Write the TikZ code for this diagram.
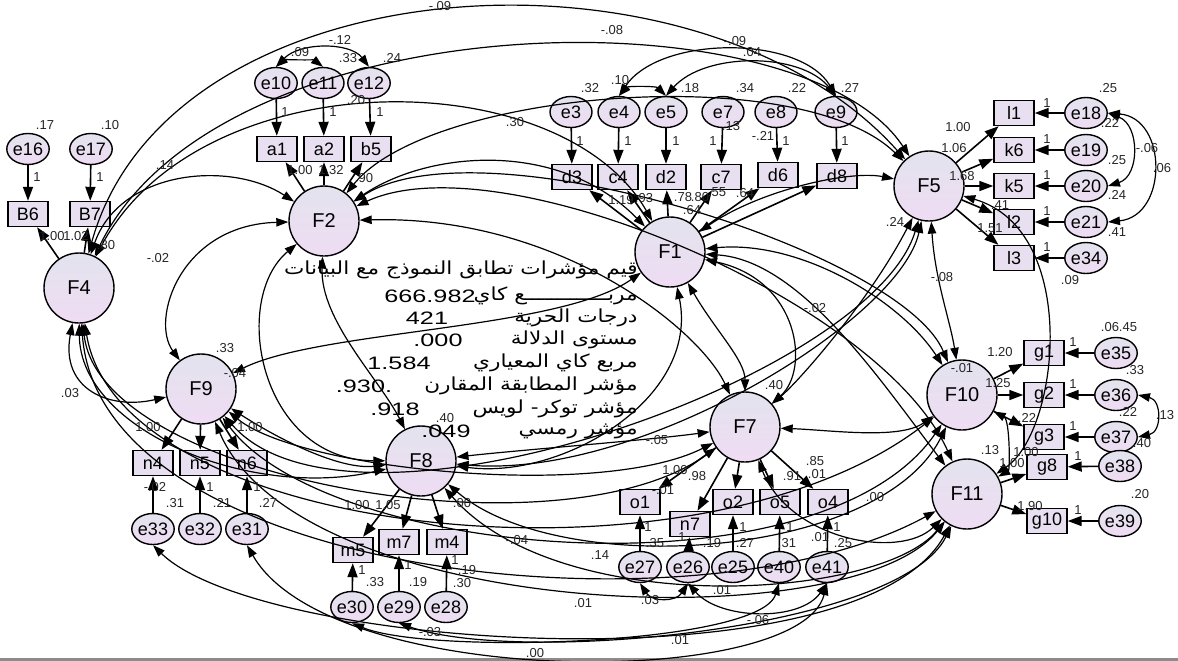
\documentclass[tikz,border=0pt]{standalone}
\usepackage{fontspec}
\setmainfont{Liberation Sans}
\newfontfamily\arabicfont[Script=Arabic,FakeStretch=1.2]{DejaVu Sans}
\newfontfamily\widenum[FakeStretch=1.4]{Liberation Sans}
\TeXXeTstate=1
\usetikzlibrary{shapes.geometric,arrows.meta}
\definecolor{lavtop}{HTML}{E3E3EE}
\definecolor{lavbot}{HTML}{EFDCF3}
\definecolor{boxfill}{HTML}{E8E0F0}
\newcounter{labc}
\newcommand\numlab[2]{\stepcounter{labc}\node[num] (lab\arabic{labc}) at (#1) {#2};}
\begin{document}
\begin{tikzpicture}[x=0.5pt,y=-0.5pt,
  lat/.style={circle,draw,line width=0.7pt,minimum size=35pt,inner sep=0pt,
    top color=lavtop,bottom color=lavbot,font=\fontsize{10}{10}\selectfont},
  err/.style={ellipse,draw,line width=0.7pt,minimum width=21pt,minimum height=15.5pt,inner sep=0pt,
    top color=lavtop,bottom color=lavbot,font=\fontsize{9}{9}\selectfont},
  obs/.style={rectangle,draw,line width=0.7pt,minimum width=20pt,minimum height=12.5pt,inner sep=0pt,
    fill=boxfill,font=\fontsize{9}{9}\selectfont},
  arr/.style={-{Triangle[length=7pt,width=5pt]},line width=0.8pt},
  cov/.style={{Triangle[length=6pt,width=4.2pt]}-{Triangle[length=6pt,width=4.2pt]},line width=0.6pt},
  num/.style={inner sep=0pt,font=\fontsize{6.5}{6.5}\selectfont,text=black!85},
  fitar/.style={anchor=east,inner sep=0pt,font=\arabicfont\fontsize{9}{9}\selectfont},
  fitn/.style={inner sep=0pt,font=\widenum\fontsize{9}{9}\selectfont}]
\useasboundingbox (0,0) rectangle (1178,660);
\fill[white] (0,0) rectangle (1178,660);
\draw[black!45,line width=1.5pt] (0,659) -- (1178,659);

% ---------- latent factors ----------
\node[lat] (F1) at (670,252) {F1};
\node[lat] (F2) at (324,221) {F2};
\node[lat] (F4) at (79,288) {F4};
\node[lat] (F5) at (929,186) {F5};
\node[lat] (F7) at (745,427) {F7};
\node[lat] (F8) at (421,461) {F8};
\node[lat] (F9) at (201,389) {F9};
\node[lat] (F10) at (962,395) {F10};
\node[lat] (F11) at (967,494) {F11};

% ---------- observed indicators ----------
\foreach \n/\x/\y/\t in {B6/28/214/B6, B7/90/214/B7, a1/277/149/a1, a2/324/149/a2, b5/371/149/b5,
  d3/572/177/d3, c4/618/177/c4, d2/666/177/d2, c7/721/177/c7, d6/778/175/d6, d8/837/176/d8,
  l1/1014/113/l1, k6/1014/150/k6, k5/1014/186/k5, l2/1014/222/l2, l3/1014/258/l3,
  g1/1044/353/g1, g2/1044/395/g2, g3/1044/437/g3, g8/1047/467/g8, g10/1047/521/g10,
  n4/153/463/n4, n5/200/463/n5, n6/247/463/n6, m5/353/550/m5, m7/399/542/m7, m4/447/542/m4,
  o1/640/502/o1, n7/690/524/n7, o2/733/502/o2, o5/780/502/o5, o4/828/502/o4}
  \node[obs] (\n) at (\x,\y) {\t};

% ---------- error terms ----------
\foreach \n/\x/\y in {e16/28/149, e17/91/149, e10/276/83, e11/323/83, e12/369/83,
  e3/571/112, e4/619/112, e5/666/112, e7/723/112, e8/776/112, e9/836/112,
  e18/1086/113, e19/1086/150, e20/1086/186, e21/1086/222, e34/1086/258,
  e35/1116/353, e36/1116/395, e37/1116/437, e38/1120/466, e39/1120/521,
  e33/153/529, e32/200/529, e31/247/529, e30/352/607, e29/399/607, e28/446/607,
  e27/640/567, e26/688/567, e25/733/567, e40/779/567, e41/827/567}
  \node[err] (\n) at (\x,\y) {\n};

% ---------- error paths ----------
\foreach \e/\o in {e16/B6, e17/B7, e10/a1, e11/a2, e12/b5, e3/d3, e4/c4, e5/d2, e7/c7, e8/d6, e9/d8,
  e18/l1, e19/k6, e20/k5, e21/l2, e34/l3, e35/g1, e36/g2, e37/g3, e38/g8, e39/g10,
  e33/n4, e32/n5, e31/n6, e30/m5, e29/m7, e28/m4, e27/o1, e26/n7, e25/o2, e40/o5, e41/o4}
  \draw[arr] (\e) -- (\o);

% ---------- loadings ----------
\foreach \f/\o in {F4/B6, F4/B7, F2/a1, F2/a2, F2/b5, F1/d3, F1/c4, F1/d2, F1/c7, F1/d6, F1/d8,
  F5/l1, F5/k6, F5/k5, F5/l2, F5/l3, F10/g1, F10/g2, F10/g3, F11/g8, F11/g10,
  F9/n4, F9/n5, F9/n6, F8/m5, F8/m7, F8/m4, F7/o1, F7/n7, F7/o2, F7/o5, F7/o4}
  \draw[arr] (\f) -- (\o);

% ---------- error covariances ----------
\draw[cov] (e10.north) .. controls (284,60) and (314,60) .. (e11.north);
\draw[cov] (e10.north) .. controls (300,42) and (350,42) .. (e12.north);
\draw[cov] (e4.north) .. controls (628,86) and (656,86) .. (e5.north);
\draw[cov] (e4.north) .. controls (660,35) and (800,35) .. (e9.north);
\draw[cov] (e5.north) .. controls (705,52) and (800,52) .. (e9.north);
\draw[cov] (e18.east) .. controls (1140,125) and (1140,176) .. (e20.east);
\draw[cov] (e18.east) .. controls (1168,118) and (1168,216) .. (e21.east);
\draw[cov] (e36.east) .. controls (1162,400) and (1162,432) .. (e37.east);
\draw[cov] (e27.south) .. controls (652,602) and (676,602) .. (e26.south);
\draw[cov] (e26.south) .. controls (720,620) and (800,622) .. (e41.south);
\draw[cov] (e31.south) .. controls (330,690) and (800,690) .. (e41.south);
\draw[cov] (e30.south) .. controls (430,655) and (760,645) .. (e40.south);
\draw[cov] (e33.south) .. controls (260,650) and (860,690) .. (F11);
\draw[cov] (e29.south) .. controls (520,665) and (900,630) .. (F11);

% ---------- factor covariances ----------
\draw[cov] (F4) .. controls (170,-40) and (700,-70) .. (F5);
\draw[cov] (F4) .. controls (220,0) and (800,-10) .. (F5);
\draw[cov] (F4) .. controls (200,60) and (560,60) .. (F1);
\draw[cov] (F4) .. controls (120,170) and (230,160) .. (F2);
\draw[cov] (F2) .. controls (180,225) and (150,320) .. (F9);
\draw[cov] (F2) .. controls (230,300) and (260,460) .. (F8);
\draw[cov] (F8) .. controls (380,380) and (320,320) .. (F2);
\draw[cov] (F2) .. controls (430,150) and (560,140) .. (F1);
\draw[cov] (F2) .. controls (430,90) and (800,60) .. (F5);
\draw[cov] (F2) .. controls (480,120) and (900,250) .. (F10);
\draw[cov] (F2) .. controls (500,140) and (880,300) .. (F11);
\draw[cov] (F2) .. controls (560,215) and (700,330) .. (F7);
\draw[cov] (F1) .. controls (760,190) and (850,170) .. (F5);
\draw[cov] (F1) .. controls (715,330) and (745,360) .. (F7);
\draw[cov] (F1) .. controls (800,280) and (810,370) .. (F7);
\draw[cov] (F1) .. controls (700,400) and (560,480) .. (F8);
\draw[cov] (F9) .. controls (320,330) and (560,330) .. (F1);
\draw[cov] (F10) .. controls (900,300) and (800,240) .. (F1);
\draw[cov] (F11) .. controls (880,380) and (800,260) .. (F1);
\draw[cov] (F5) .. controls (870,300) and (800,380) .. (F7);
\draw[cov] (F5) .. controls (900,320) and (640,480) .. (F8);
\draw[cov] (F5) .. controls (870,380) and (350,560) .. (F9);
\draw[cov] (F5) .. controls (935,280) and (950,320) .. (F10);
\draw[cov] (F5) .. controls (1080,230) and (1060,430) .. (F11);
\draw[cov] (F7) .. controls (650,440) and (520,450) .. (F8);
\draw[cov] (F9) .. controls (300,470) and (600,500) .. (F7);
\draw[cov] (F10) .. controls (900,440) and (830,430) .. (F7);
\draw[cov] (F7) .. controls (790,540) and (900,560) .. (F11);
\draw[cov] (F9) .. controls (280,440) and (340,470) .. (F8);
\draw[cov] (F8) .. controls (560,580) and (880,560) .. (F10);
\draw[cov] (F8) .. controls (560,620) and (880,600) .. (F11);
\draw[cov] (F9) .. controls (330,560) and (820,600) .. (F10);
\draw[cov] (F9) .. controls (300,620) and (850,640) .. (F11);
\draw[cov] (F10) .. controls (1010,420) and (1010,470) .. (F11);
\draw[cov] (F4) .. controls (100,480) and (560,560) .. (F7);
\draw[cov] (F4) .. controls (80,430) and (250,500) .. (F8);
\draw[cov] (F4) .. controls (60,390) and (110,410) .. (F9);
\draw[cov] (F4) .. controls (120,540) and (700,600) .. (F10);
\draw[cov] (F4) .. controls (100,580) and (700,640) .. (F11);

% ---------- fit indices ----------
\node[fitar] (ar1) at (638,270) {\beginR قيم مؤشرات تطابق النموذج مع البيانات\endR};
\node[fitar] (ar2) at (638,296) {\beginR مربـــــــــــــع كاي\endR};
\node[fitar] (ar3) at (638,318) {\beginR درجات الحرية\endR};
\node[fitar] (ar4) at (638,340) {\beginR مستوى الدلالة\endR};
\node[fitar] (ar5) at (638,363) {\beginR مربع كاي المعياري\endR};
\node[fitar] (ar6) at (638,386) {\beginR مؤشر المطابقة المقارن\endR};
\node[fitar] (ar7) at (638,409) {\beginR مؤشر توكر- لويس\endR};
\node[fitar] (ar8) at (638,431) {\beginR مؤشر رمسي\endR};
\node[fitn] (v2) at (430,296) {666.982};
\node[fitn] (v3) at (427,318) {421};
\node[fitn] (v4) at (438,340) {.000};
\node[fitn] (v5) at (399,363) {1.584};
\node[fitn] (v6) at (364,386) {.930.};
\node[fitn] (v7) at (395,409) {.918};
\node[fitn] (v8) at (446,431) {.049};

% ---------- estimates ----------
\numlab{440,6}{-.09}
\numlab{612,30}{-.08}
\numlab{735,41}{-.09}
\numlab{752,52}{.04}
\numlab{340,40}{-.12}
\numlab{300,52}{.09}
\numlab{348,58}{.33}
\numlab{392,58}{.24}
\numlab{45,125}{.17}
\numlab{110,125}{.10}
\numlab{356,100}{.20}
\numlab{165,165}{.14}
\numlab{515,122}{.30}
\numlab{590,88}{.32}
\numlab{620,80}{.10}
\numlab{690,88}{.18}
\numlab{745,88}{.34}
\numlab{797,88}{.22}
\numlab{850,88}{.27}
\numlab{731,126}{.13}
\numlab{763,136}{-.21}
\foreach \x/\y in {37/177, 100/177, 285/112, 333/112, 380/112, 580/141, 628/141, 676/141, 713/141, 786/141, 845/141,
  1047/103, 1047/139, 1047/175, 1047/211, 1047/247, 1073/342, 1073/384, 1073/426, 1078/456, 1078/510,
  210/487, 257/487, 362/570, 408/565, 455/560, 648/527, 682/537, 743/527, 790/527, 837/527}
  {\numlab{\x,\y}{1}}
\numlab{52,236}{1.00}
\numlab{76,236}{1.02}
\numlab{106,245}{.80}
\numlab{300,170}{1.00}
\numlab{331,170}{1.32}
\numlab{364,178}{.90}
\numlab{621,200}{1.19}
\numlab{644,198}{.93}
\numlab{683,197}{.78}
\numlab{700,197}{.80}
\numlab{717,192}{.55}
\numlab{692,210}{.64}
\numlab{745,193}{.64}
\numlab{958,127}{1.00}
\numlab{954,148}{1.06}
\numlab{962,176}{1.68}
\numlab{1000,205}{.41}
\numlab{990,228}{1.51}
\numlab{1000,352}{1.20}
\numlab{962,368}{-.01}
\numlab{998,383}{1.25}
\numlab{1027,418}{.22}
\numlab{1026,452}{1.00}
\numlab{1012,463}{1.00}
\numlab{1030,506}{1.90}
\numlab{990,450}{.13}
\numlab{1108,88}{.25}
\numlab{1110,123}{.22}
\numlab{1117,160}{.25}
\numlab{1117,195}{.24}
\numlab{1117,232}{.41}
\numlab{1147,148}{-.06}
\numlab{1162,168}{.06}
\numlab{1110,327}{.06}
\numlab{1128,327}{.45}
\numlab{1135,370}{.33}
\numlab{1128,412}{.22}
\numlab{1165,415}{.13}
\numlab{1142,443}{.40}
\numlab{1140,494}{.20}
\numlab{895,222}{.24}
\numlab{942,277}{-.08}
\numlab{1070,280}{.09}
\numlab{815,308}{-.02}
\numlab{774,385}{.40}
\numlab{675,470}{1.00}
\numlab{697,476}{.98}
\numlab{663,490}{-.01}
\numlab{792,476}{.91}
\numlab{815,461}{.85}
\numlab{817,474}{.01}
\numlab{875,497}{.00}
\numlab{655,543}{.35}
\numlab{712,543}{.19}
\numlab{745,543}{.27}
\numlab{787,543}{.31}
\numlab{820,537}{.01}
\numlab{843,543}{.25}
\numlab{650,600}{.03}
\numlab{722,590}{.01}
\numlab{583,603}{.01}
\numlab{758,620}{-.06}
\numlab{680,640}{.01}
\numlab{535,653}{.00}
\numlab{430,632}{-.03}
\numlab{517,540}{-.04}
\numlab{600,555}{.14}
\numlab{462,503}{.00}
\numlab{657,440}{-.05}
\numlab{445,418}{.40}
\numlab{357,505}{1.00}
\numlab{388,505}{1.05}
\numlab{375,582}{.33}
\numlab{418,582}{.19}
\numlab{467,570}{.19}
\numlab{462,583}{.30}
\numlab{225,348}{.33}
\numlab{235,373}{-.04}
\numlab{148,427}{1.00}
\numlab{250,427}{1.00}
\numlab{175,503}{.31}
\numlab{222,503}{.21}
\numlab{268,503}{.27}
\numlab{155,487}{-.02}
\numlab{70,393}{.03}
\numlab{158,258}{-.02}
\end{tikzpicture}
\end{document}
